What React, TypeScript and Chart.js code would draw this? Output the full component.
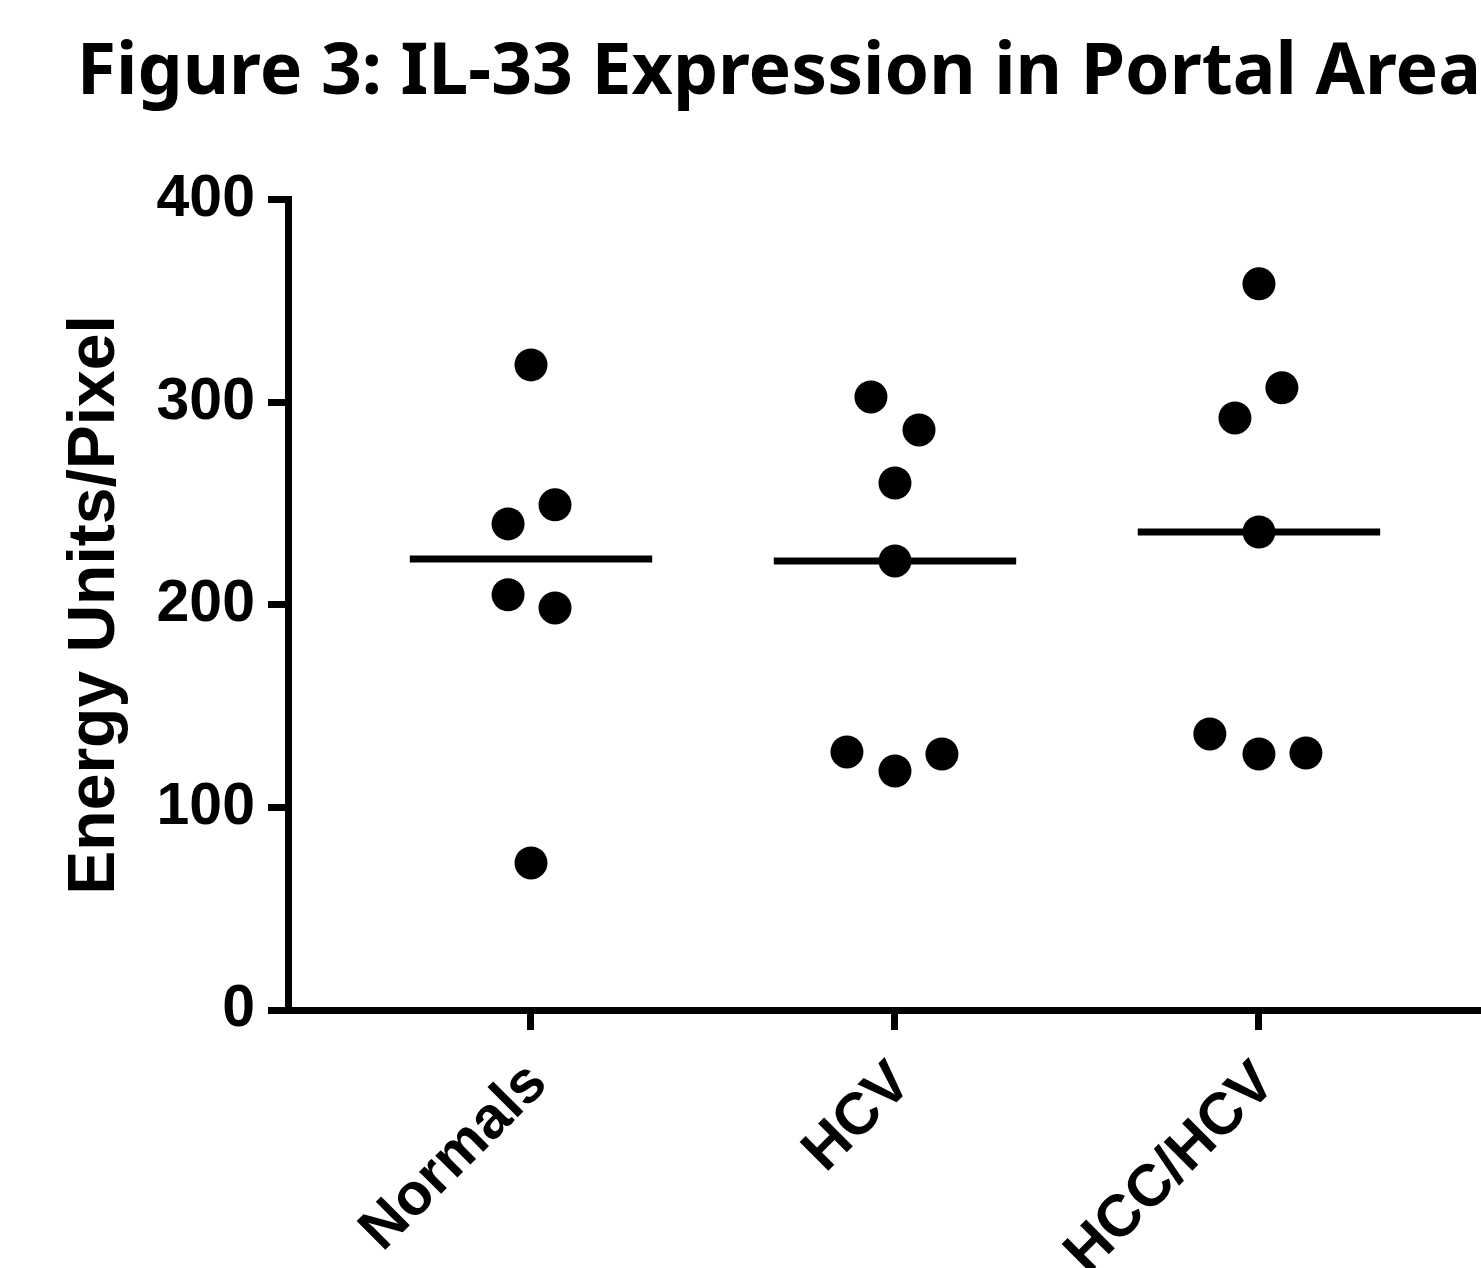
import React, { useEffect, useRef } from "react";
import { Chart, registerables } from "chart.js";

Chart.register(...registerables);

const TITLE = "Figure 3: IL-33 Expression in Portal Area";
const Y_TITLE = "Energy Units/Pixel";
const CATEGORIES = ["Normals", "HCV", "HCC/HCV"];
const Y_TICKS = [0, 100, 200, 300, 400];

// values; jitter = horizontal offset within a column (category units)
const NORMALS = [318.5, 240, 249.4, 205, 198.5, 72.6];
const NORMALS_JITTER = [0, -0.063, 0.066, -0.063, 0.066, 0];
const HCV = [302.7, 286.4, 260.2, 221.7, 127.4, 126.4, 118];
const HCV_JITTER = [-0.066, 0.066, 0, 0, -0.132, 0.129, 0];
const HCC_HCV = [358.5, 307.2, 292.3, 236, 136.3, 126.4, 126.9];
const HCC_HCV_JITTER = [0, 0.063, -0.066, 0, -0.135, 0, 0.129];
const MEDIANS = [222.7, 221.7, 236];

const GROUPS = [
  { values: NORMALS, jitter: NORMALS_JITTER },
  { values: HCV, jitter: HCV_JITTER },
  { values: HCC_HCV, jitter: HCC_HCV_JITTER },
];

const W = 1481;
const H = 1268;
const ARIAL = "'Liberation Sans', Arial, sans-serif";

export default function App() {
  const ref = useRef<HTMLCanvasElement | null>(null);

  useEffect(() => {
    if (!ref.current) return;
    const pointSets = GROUPS.map((g, gi) => ({
      type: "scatter" as const,
      label: CATEGORIES[gi],
      data: g.values.map((v, i) => ({ x: gi + 1 + g.jitter[i], y: v })),
      backgroundColor: "#000",
      borderWidth: 0,
      pointRadius: 16.5,
      pointHoverRadius: 16.5,
      showLine: false,
      order: 1,
    }));
    const medianSets = MEDIANS.map((m, gi) => ({
      type: "line" as const,
      label: CATEGORIES[gi] + " median",
      data: [
        { x: gi + 1 - 0.333, y: m },
        { x: gi + 1 + 0.333, y: m },
      ],
      borderColor: "#000",
      borderWidth: 7,
      borderCapStyle: "butt" as const,
      pointRadius: 0,
      showLine: true,
      fill: false,
      order: 0,
    }));

    const chart = new Chart(ref.current, {
      type: "scatter",
      data: { datasets: [...medianSets, ...pointSets] as any },
      options: {
        responsive: false,
        animation: false,
        layout: { padding: 0, autoPadding: false },
        plugins: {
          legend: { display: false },
          tooltip: { enabled: false },
          title: {
            display: true,
            text: TITLE,
            align: "end",
            color: "#000",
            font: { family: "'Noto Sans', sans-serif", size: 71.5, weight: "bold", lineHeight: 1.2 },
            padding: { top: 31, bottom: 83 },
          },
        },
        scales: {
          x: {
            type: "linear",
            min: 0.3324,
            max: 3.61,
            afterBuildTicks: (scale: any) => {
              scale.ticks = CATEGORIES.map((_, i) => ({ value: i + 1 }));
            },
            afterFit: (scale: any) => {
              scale.height = 258;
              scale.paddingLeft = 0;
              scale.paddingRight = 0;
            },
            border: { display: true, color: "#000", width: 7 },
            grid: {
              display: true,
              drawOnChartArea: false,
              drawTicks: true,
              tickLength: 20,
              tickWidth: 7,
              tickColor: "#000",
              color: "#000",
            },
            ticks: {
              autoSkip: false,
              minRotation: 45,
              maxRotation: 45,
              padding: 19,
              labelOffset: 7,
              color: "#000",
              font: { family: ARIAL, size: 59, weight: "bold" },
              callback: (v: any) => CATEGORIES[Math.round(Number(v)) - 1] ?? "",
            },
          },
          y: {
            type: "linear",
            min: 0,
            max: 400,
            afterBuildTicks: (scale: any) => {
              scale.ticks = Y_TICKS.map((v) => ({ value: v }));
            },
            afterFit: (scale: any) => {
              scale.width = 288;
            },
            border: { display: true, color: "#000", width: 7 },
            grid: {
              display: true,
              drawOnChartArea: false,
              drawTicks: true,
              tickLength: 20,
              tickWidth: 7,
              tickColor: "#000",
              color: "#000",
            },
            ticks: {
              padding: 13,
              color: "#000",
              font: { family: ARIAL, size: 59, weight: "bold" },
            },
            title: {
              display: true,
              text: Y_TITLE,
              color: "#000",
              font: { family: ARIAL, size: 66, weight: "bold", lineHeight: 1.2 },
              padding: { top: 56, bottom: 0 },
            },
          },
        },
      },
    });
    return () => chart.destroy();
  }, []);

  return (
    <div style={{ position: "absolute", left: 0, top: 0, width: W, height: H, overflow: "hidden", background: "#fff" }}>
      <canvas ref={ref} width={W} height={H} style={{ display: "block" }} />
    </div>
  );
}
